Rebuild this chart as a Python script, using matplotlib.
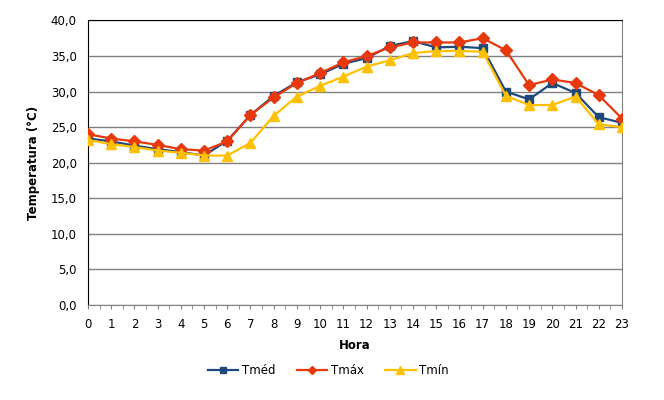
import numpy as np
import matplotlib
matplotlib.use("Agg")
import matplotlib.pyplot as plt
from matplotlib.ticker import FuncFormatter, MultipleLocator

hora = list(range(24))
tmed = [23.4, 23.0, 22.4, 21.9, 21.5, 21.0, 23.1, 26.7, 29.4, 31.3, 32.4, 33.9,
        34.7, 36.4, 37.1, 36.2, 36.3, 36.1, 30.0, 28.9, 31.2, 29.8, 26.4, 25.6]
tmax = [24.0, 23.4, 23.0, 22.5, 21.9, 21.7, 23.0, 26.7, 29.2, 31.2, 32.6, 34.1,
        35.0, 36.2, 36.9, 36.9, 36.9, 37.5, 35.8, 30.9, 31.7, 31.2, 29.5, 26.2]
tmin = [23.2, 22.6, 22.2, 21.7, 21.4, 21.0, 21.0, 22.8, 26.6, 29.3, 30.8, 32.1,
        33.5, 34.4, 35.4, 35.7, 35.7, 35.6, 29.4, 28.1, 28.1, 29.3, 25.4, 25.0]

plt.rcParams['font.family'] = ['DejaVu Sans']

fig = plt.figure(figsize=(6.64, 4.0), dpi=100)
ax = fig.add_axes([0.1325, 0.2375, 0.8042, 0.7115])

ax.plot(hora, tmed, color='#1F497D', lw=1.6, marker='s', ms=6, label='Tméd', zorder=3)
ax.plot(hora, tmax, color='#E8380D', lw=1.6, marker='D', ms=6, label='Tmáx', zorder=4)
ax.plot(hora, tmin, color='#FFC000', lw=1.6, marker='^', ms=7, label='Tmín', zorder=5)

ax.set_xlim(0, 23)
ax.set_ylim(0, 40)
ax.xaxis.set_major_locator(MultipleLocator(1))
ax.xaxis.set_minor_locator(MultipleLocator(0.5))
ax.yaxis.set_major_locator(MultipleLocator(5))
ax.yaxis.set_major_formatter(FuncFormatter(lambda v, p: f"{v:.1f}".replace('.', ',')))
ax.grid(axis='y', color='#808080', lw=1)
ax.set_axisbelow(True)

ax.tick_params(axis='x', which='both', direction='out', length=3, color='#808080', labelsize=8.5, pad=6)
ax.tick_params(axis='y', length=0, labelsize=8.5, pad=8)
ax.spines['left'].set_color('black')
ax.spines['top'].set_color('black')
ax.spines['right'].set_color('#808080')
ax.spines['bottom'].set_color('#808080')

ax.set_xlabel('Hora', fontsize=8.5, fontweight='bold', labelpad=6)
ax.set_ylabel('Temperatura (°C)', fontsize=8.5, fontweight='bold', labelpad=8)

ax.legend(loc='upper center', bbox_to_anchor=(0.45, -0.17), ncol=3, frameon=False,
          fontsize=8.5, handlelength=2.6, columnspacing=1.8, handletextpad=0.3,
          markerscale=0.75)

fig.savefig('out.png', dpi=100)
